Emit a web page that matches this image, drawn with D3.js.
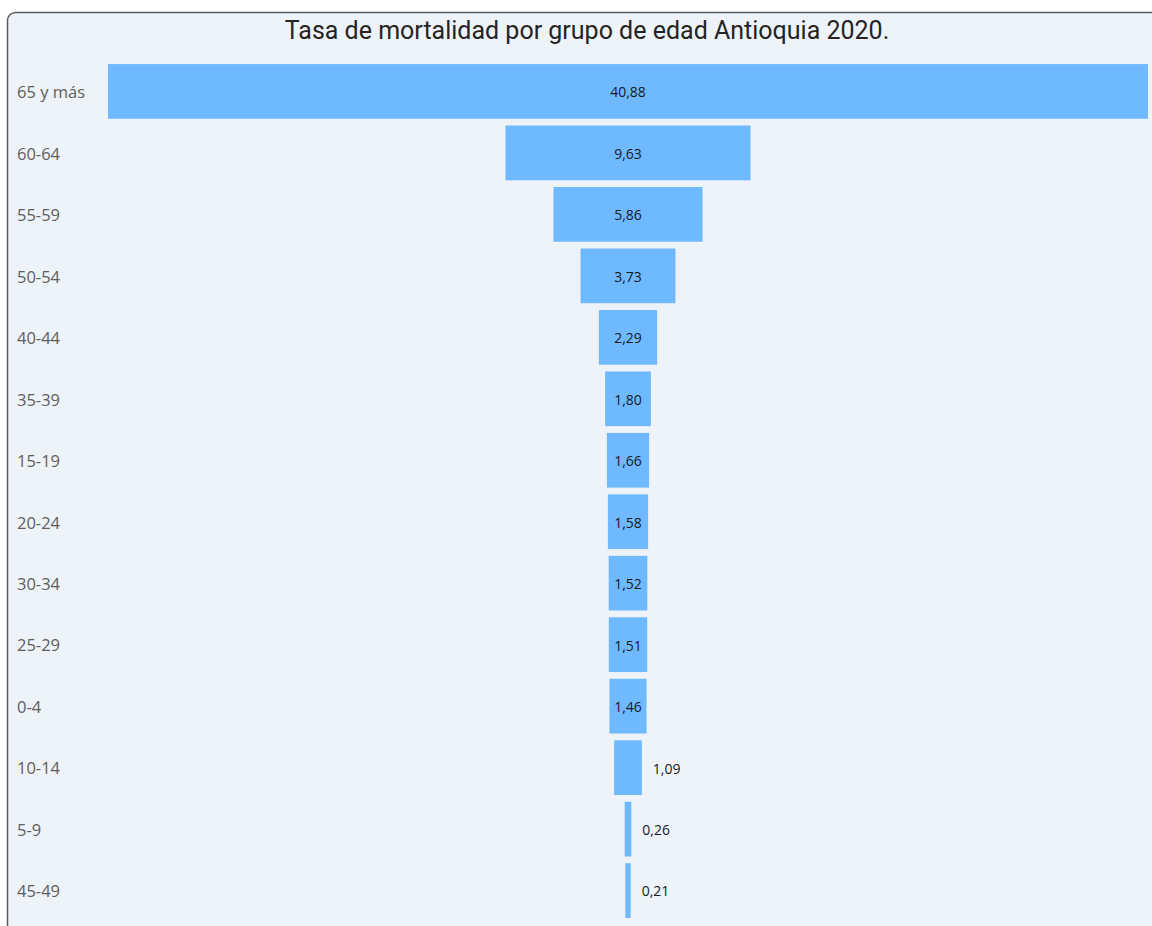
<!DOCTYPE html>
<html>
<head>
<meta charset="utf-8">
<script src="https://cdn.jsdelivr.net/npm/d3@7"></script>
<style>
  html, body { margin: 0; padding: 0; background: #ffffff; }
  svg { display: block; }
</style>
</head>
<body>
<svg id="chart" width="1152" height="926"></svg>
<script>
const title = "Tasa de mortalidad por grupo de edad Antioquia 2020.";
const categories = ["65 y más", "60-64", "55-59", "50-54", "40-44", "35-39", "15-19", "20-24", "30-34", "25-29", "0-4", "10-14", "5-9", "45-49"];
const values = [40.88, 9.63, 5.86, 3.73, 2.29, 1.80, 1.66, 1.58, 1.52, 1.51, 1.46, 1.09, 0.26, 0.21];

const svg = d3.select("#chart");

// panel
svg.append("rect")
  .attr("x", 7.5).attr("y", 12.5)
  .attr("width", 1160).attr("height", 940)
  .attr("rx", 8).attr("ry", 8)
  .attr("fill", "#EEF3FA")
  .attr("stroke", "#5a5a5a")
  .attr("stroke-width", 1.5);

svg.append("text")
  .attr("x", 587).attr("y", 39)
  .attr("text-anchor", "middle")
  .attr("font-family", "Roboto, 'Noto Sans', sans-serif")
  .attr("font-size", 25)
  .attr("fill", "#252423")
  .text(title);

const cx = 628;
const x = d3.scaleLinear().domain([0, d3.max(values)]).range([0, 1040]);
const y = d3.scaleBand().domain(categories).range([61, 921]).paddingInner(0.11).paddingOuter(0.05);

const fmt = v => d3.format(".2f")(v).replace(".", ",");

const rows = svg.append("g").selectAll("g.row")
  .data(categories.map((c, i) => ({c, v: values[i]}))).join("g");

rows.append("rect")
  .attr("x", d => cx - Math.max(x(d.v), 5) / 2)
  .attr("y", d => y(d.c))
  .attr("width", d => Math.max(x(d.v), 5))
  .attr("height", y.bandwidth())
  .attr("fill", "#6EB9FF");

rows.append("text")
  .attr("x", 17)
  .attr("y", d => y(d.c) + y.bandwidth() / 2 + 1)
  .attr("dy", "0.35em")
  .attr("font-family", "'Open Sans', 'Noto Sans', sans-serif")
  .attr("font-size", 16.5)
  .attr("fill", "#605E5C")
  .text(d => d.c);

rows.append("text")
  .attr("x", d => x(d.v) > 34 ? cx : cx + Math.max(x(d.v), 5) / 2 + 11)
  .attr("y", d => y(d.c) + y.bandwidth() / 2 + 1)
  .attr("dy", "0.35em")
  .attr("text-anchor", d => x(d.v) > 34 ? "middle" : "start")
  .attr("font-family", "'Open Sans', 'Noto Sans', sans-serif")
  .attr("font-size", 14)
  .attr("fill", "#1a1a1a")
  .text(d => fmt(d.v));
</script>
</body>
</html>
